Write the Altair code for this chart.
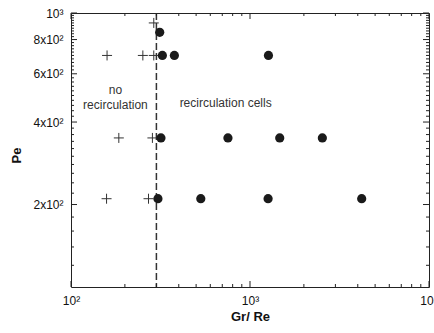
import altair as alt
import pandas as pd

# ---- data ----
plus_gr = [290, 159, 252, 290, 185, 285, 158, 271]
plus_pe = [920, 700, 700, 700, 350, 350, 210, 210]

dot_gr = [313, 324, 378, 1268, 318, 753, 1466, 2536, 306, 531, 1262, 4207]
dot_pe = [850, 700, 700, 700, 350, 350, 350, 350, 210, 210, 210, 210]

threshold = 300

x_major = [100, 1000, 10000]
x_minor = [v * m for m in (100, 1000) for v in range(2, 10)]
y_major = [200, 400, 600, 800, 1000]
y_minor = [v for v in range(100, 1001, 20) if v not in (100, 200, 400, 600, 800, 1000)]

ann_text = ["no", "recirculation", "recirculation cells"]
ann_x = [177, 177, 731]
ann_y = [523, 461, 469]

W, H = 358, 274
FONT = "Liberation Sans"

xs = alt.Scale(type="log", domain=[100, 10000], nice=False)
ys = alt.Scale(type="log", domain=[100, 1000], nice=False)

plus_df = pd.DataFrame({"gr": plus_gr, "pe": plus_pe})
dot_df = pd.DataFrame({"gr": dot_gr, "pe": dot_pe})
ann_df = pd.DataFrame({"t": ann_text, "x": ann_x, "y": ann_y})

x_axis = alt.Axis(
    values=x_major, ticks=False, domain=False, grid=False,
    labelExpr="datum.value == 100 ? '10\u00b2' : (datum.value == 1000 ? '10\u00b3' : '10\u2074')",
    labelFlush=False, labelOverlap=False, labelBound=False, labelPadding=8,
    labelFontSize=12, labelFont=FONT, labelColor="#111",
    title="Gr/ Re", titleFont=FONT, titleFontSize=13, titleFontWeight="bold",
    titleColor="#111", titleY=29, titleBaseline="middle",
)
y_axis = alt.Axis(
    values=y_major, ticks=False, domain=False, grid=False,
    labelExpr="datum.value == 1000 ? '10\u00b3' : (datum.value / 100) + 'x10\u00b2'",
    labelOverlap=False, labelBound=False, labelFlush=False, labelPadding=8,
    labelFontSize=12, labelFont=FONT, labelColor="#111", labelBaseline="middle",
    title="Pe", titleFont=FONT, titleFontSize=13, titleFontWeight="bold",
    titleColor="#111", titleX=-55, titleY=142, titleAngle=-90,
    titleAlign="center", titleBaseline="middle",
)


def X(f):
    return alt.X(f, type="quantitative", scale=xs, axis=x_axis, title="Gr/ Re")


def Y(f):
    return alt.Y(f, type="quantitative", scale=ys, axis=y_axis, title="Pe")


# plus markers (no recirculation)
plus = alt.Chart(plus_df).mark_point(
    shape="M-1,0L1,0M0,-1L0,1", size=100, filled=False,
    stroke="#333", strokeWidth=1, opacity=1,
).encode(x=X("gr"), y=Y("pe"))

dots = alt.Chart(dot_df).mark_circle(size=85, color="#1a1a1a", opacity=1).encode(
    x=X("gr"), y=Y("pe"))

dash = alt.Chart(pd.DataFrame({"v": [threshold]})).mark_rule(
    strokeDash=[7, 3], strokeWidth=1.5, color="#333"
).encode(x=X("v"))

ann = alt.Chart(ann_df).mark_text(
    font=FONT, fontSize=12, color="#333", baseline="middle", align="center"
).encode(x=X("x"), y=Y("y"), text="t:N")


def xticks(vals, L):
    d = pd.DataFrame({"v": vals})
    b = alt.Chart(d).mark_rule(color="#222", strokeWidth=1).encode(
        x=X("v"), y=alt.value(H), y2=alt.value(H - L))
    t = alt.Chart(d).mark_rule(color="#222", strokeWidth=1).encode(
        x=X("v"), y=alt.value(0), y2=alt.value(L))
    return [b, t]


def yticks(vals, L):
    d = pd.DataFrame({"v": vals})
    l = alt.Chart(d).mark_rule(color="#222", strokeWidth=1).encode(
        y=Y("v"), x=alt.value(0), x2=alt.value(L))
    r = alt.Chart(d).mark_rule(color="#222", strokeWidth=1).encode(
        y=Y("v"), x=alt.value(W), x2=alt.value(W - L))
    return [l, r]


tick_layers = xticks(x_major, 6) + xticks(x_minor, 3) + yticks(y_major, 6) + yticks(y_minor, 3)

chart = alt.layer(plus, dash, dots, ann, *tick_layers).properties(
    width=W, height=H,
    autosize=alt.AutoSizeParams(type="none"),
    padding={"left": 71, "top": 13, "right": 5, "bottom": 46},
    background="white",
).configure_view(stroke="#222", strokeWidth=1)

chart.save("out.html", embed_options={"renderer": "svg", "actions": False})
